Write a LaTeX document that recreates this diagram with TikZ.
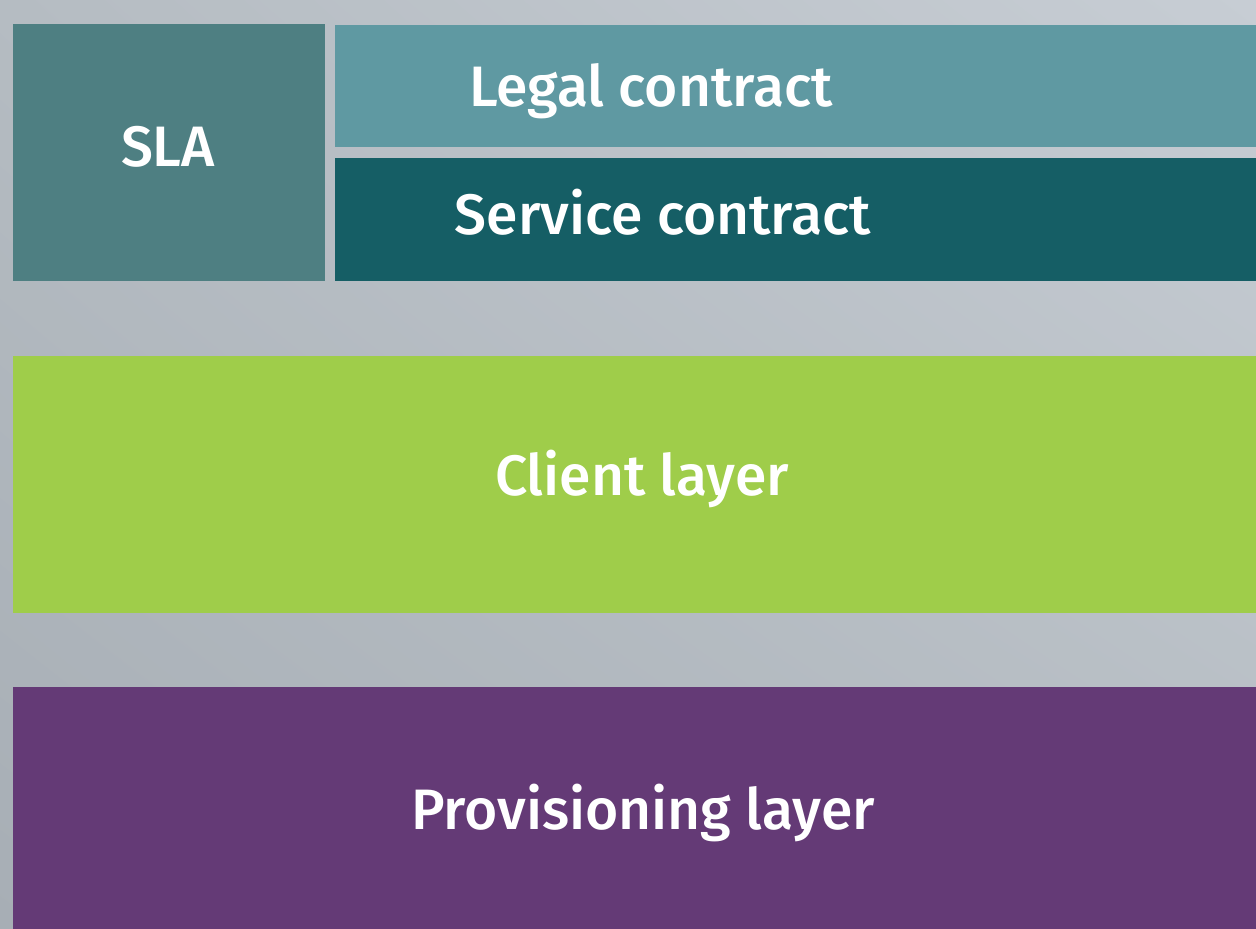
\documentclass[tikz,border=0pt]{standalone}
\usepackage{fontspec}
\setmainfont{Fira Sans}[UprightFont=* Medium]
\usepackage{tikz}
\usetikzlibrary{shadings}
\definecolor{bgdark}{HTML}{A7AEB5}
\definecolor{bgmid}{HTML}{B5BCC2}
\definecolor{bglight}{HTML}{C7CDD4}
\definecolor{slacol}{HTML}{4E7F82}
\definecolor{legalcol}{HTML}{5F99A2}
\definecolor{servicecol}{HTML}{155E65}
\definecolor{clientcol}{HTML}{9FCD4A}
\definecolor{provcol}{HTML}{643A76}
\tikzset{
	boxlabel/.style={text=white, font=\fontsize{57}{60}\selectfont, inner sep=0pt, anchor=base}
}

\begin{document}
\begin{tikzpicture}[x=1pt, y=-1pt]
		%%%%% START %%%%%
		
		\useasboundingbox (0, 0) rectangle (1256, 929);
		\shade[lower left=bgdark, upper right=bglight, upper left=bgmid, lower right=bgmid] (0, 0) rectangle (1256, 929);
		
		\draw[draw=none, fill=slacol] (13, 24) rectangle (325, 281);
		\node[boxlabel] (sla) at (168, 166) {SLA};
		
		\draw[draw=none, fill=legalcol] (335, 25) rectangle (1256, 147);
		\node[boxlabel] (legal) at (651, 106) {Legal contract};
		
		\draw[draw=none, fill=servicecol] (335, 158) rectangle (1256, 281);
		\node[boxlabel] (service) at (663, 234) {Service contract};
		
		\draw[draw=none, fill=clientcol] (13, 356) rectangle (1256, 613);
		\node[boxlabel] (client) at (642, 495) {Client layer};
		
		\draw[draw=none, fill=provcol] (13, 687) rectangle (1256, 929);
		\node[boxlabel] (prov) at (643, 829) {Provisioning layer};
		
		%%%%% END %%%%%
	\end{tikzpicture}
\end{document}
